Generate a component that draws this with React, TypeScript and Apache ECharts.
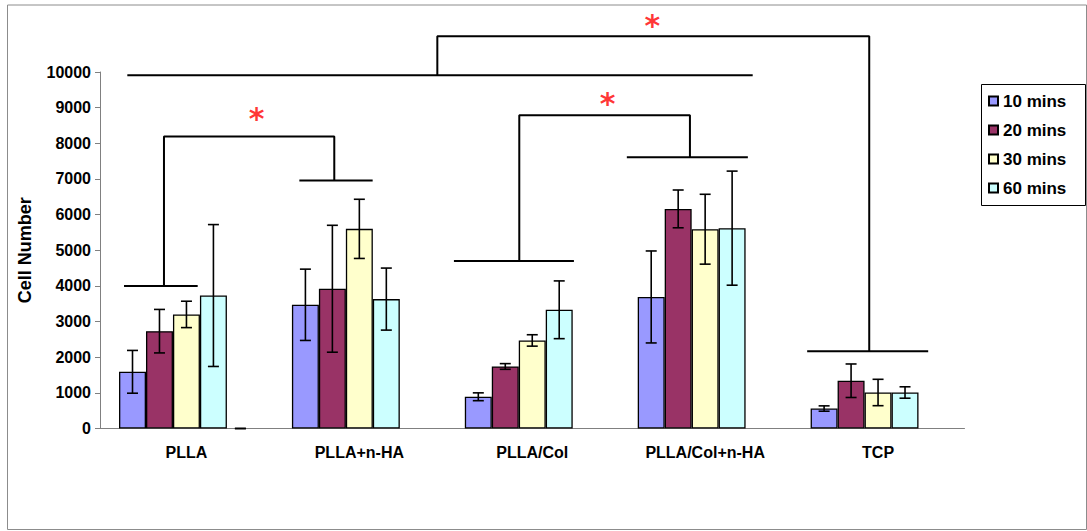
import React, { useEffect, useRef } from "react";
import * as echarts from "echarts";

const categories = ["PLLA", "PLLA+n-HA", "PLLA/Col", "PLLA/Col+n-HA", "TCP"];
const seriesNames = ["10 mins", "20 mins", "30 mins", "60 mins"];
const seriesColors = ["#9999FF", "#993366", "#FFFFCC", "#CCFFFF"];

const mins10 = [1590, 3470, 890, 3690, 560];
const mins10Err = [600, 1000, 110, 1290, 75];
const mins20 = [2730, 3920, 1740, 6160, 1340];
const mins20Err = [610, 1780, 80, 530, 470];
const mins30 = [3200, 5600, 2470, 5590, 1010];
const mins30Err = [370, 830, 160, 980, 370];
const mins60 = [3730, 3630, 3330, 5620, 1010];
const mins60Err = [1990, 870, 810, 1600, 160];
// empty fifth series of the original sheet (only a zero cap is visible in PLLA)
const blankValues = [0, null, null, null, null];
const blankErr = [0, null, null, null, null];

const yTicks = { min: 0, max: 10000, interval: 1000 };

// significance brackets, x in category units (0..5), y in cell number
const bracketPLLA = [
  [0.139, 4000], [0.565, 4000], [0.37, 4000], [0.37, 8190],
  [1.355, 8190], [1.355, 6960], [1.153, 6960], [1.577, 6960],
];
const bracketCol = [
  [2.047, 4700], [2.741, 4700], [2.425, 4700], [2.425, 8790],
  [3.412, 8790], [3.412, 7610], [3.047, 7610], [3.747, 7610],
];
const bracketAll = [
  [0.158, 9910], [3.775, 9910], [1.951, 9910], [1.951, 11000],
  [4.449, 11000], [4.449, 2165], [4.09, 2165], [4.79, 2165],
];
const asterisks = [
  [0.906, 8794],
  [2.936, 9234],
  [3.194, 11411],
];

const FONT = "Liberation Sans";
const CAT_GAP = 0.22;
const N_BARS = 5;

export default function App() {
  const ref = useRef<HTMLDivElement>(null);
  useEffect(() => {
    if (!ref.current) return;
    const chart = echarts.init(ref.current, undefined, { renderer: "svg" });

    const allValues = [mins10, mins20, mins30, mins60, blankValues];
    const allErr = [mins10Err, mins20Err, mins30Err, mins60Err, blankErr];

    const barSeries = allValues.map((vals, i) => ({
      type: "bar",
      name: i < 4 ? seriesNames[i] : "",
      data: vals,
      barGap: "0%",
      barCategoryGap: CAT_GAP * 100 + "%",
      itemStyle: {
        color: i < 4 ? seriesColors[i] : "transparent",
        borderColor: "#000",
        borderWidth: i < 4 ? 1.3 : 0,
      },
      z: 2,
    }));

    const errSeries = allValues.map((vals, i) => ({
      type: "custom",
      name: "err" + i,
      xAxisIndex: 0,
      yAxisIndex: 0,
      z: 5,
      silent: true,
      encode: { x: 0, y: 1 },
      data: vals
        .map((v, j) => (v == null ? null : [j, v, allErr[i][j]]))
        .filter((d) => d !== null),
      renderItem: (params: any, api: any) => {
        const cat = api.value(0);
        const v = api.value(1);
        const e = api.value(2);
        const band = api.size([1, 0])[0];
        const barW = (band * (1 - CAT_GAP)) / N_BARS;
        const cx = api.coord([cat, v])[0] + (i - 2) * barW;
        const yTop = api.coord([cat, v + e])[1];
        const yBot = api.coord([cat, v - e])[1];
        const cap = 5.5;
        const style = { stroke: "#000", lineWidth: 1.6 };
        return {
          type: "group",
          children: [
            { type: "line", shape: { x1: cx, y1: yTop, x2: cx, y2: yBot }, style },
            { type: "line", shape: { x1: cx - cap, y1: yTop, x2: cx + cap, y2: yTop }, style },
            { type: "line", shape: { x1: cx - cap, y1: yBot, x2: cx + cap, y2: yBot }, style },
          ],
        };
      },
    }));

    const bracketSeries = [bracketPLLA, bracketCol, bracketAll].map((b, k) => ({
      type: "line",
      name: "bracket" + k,
      xAxisIndex: 1,
      yAxisIndex: 0,
      data: b,
      symbol: "none",
      clip: false,
      silent: true,
      lineStyle: { color: "#000", width: 2 },
      z: 6,
    }));

    const starSeries = {
      type: "scatter",
      name: "stars",
      xAxisIndex: 1,
      yAxisIndex: 0,
      data: asterisks,
      symbolSize: 1,
      clip: false,
      silent: true,
      itemStyle: { color: "transparent" },
      label: {
        show: true,
        position: "inside",
        formatter: "*",
        color: "#FF0000",
        fontFamily: "DejaVu Sans",
        fontWeight: "bold",
        fontSize: 30,
        offset: [0, 4],
      },
      z: 7,
    };

    chart.setOption({
      animation: false,
      grid: { left: 100, right: 122.5, top: 72, bottom: 102.5, containLabel: false },
      legend: {
        data: seriesNames,
        orient: "vertical",
        left: 988,
        top: 92,
        padding: 0,
        itemWidth: 9,
        itemHeight: 9,
        itemGap: 11,
        icon: "rect",
        textStyle: {
          fontFamily: FONT,
          fontWeight: "bold",
          fontSize: 17,
          lineHeight: 18,
          color: "#000",
        },
      },
      xAxis: [
        {
          type: "category",
          data: categories,
          axisLine: { lineStyle: { color: "#808080", width: 1 } },
          axisTick: { lineStyle: { color: "#808080" }, length: 5 },
          axisLabel: {
            fontFamily: FONT,
            fontWeight: "bold",
            fontSize: 16,
            color: "#000",
            margin: 16,
          },
          splitLine: { show: false },
        },
        { type: "value", min: 0, max: 5, show: false },
      ],
      yAxis: {
        type: "value",
        min: yTicks.min,
        max: yTicks.max,
        interval: yTicks.interval,
        name: "Cell Number",
        nameLocation: "middle",
        nameGap: 66,
        nameTextStyle: {
          fontFamily: FONT,
          fontWeight: "bold",
          fontSize: 18,
          color: "#000",
        },
        axisLine: { show: true, lineStyle: { color: "#808080", width: 1 } },
        axisTick: { show: true, length: 5, lineStyle: { color: "#808080" } },
        axisLabel: {
          fontFamily: FONT,
          fontWeight: "bold",
          fontSize: 16,
          color: "#000",
          margin: 9,
          formatter: (v: number) => String(v),
        },
        splitLine: { show: false },
      },
      graphic: [
        {
          type: "rect",
          silent: true,
          shape: { x: 7.5, y: 5, width: 1079, height: 524.5 },
          style: { fill: "none", stroke: "#8c8c8c", lineWidth: 1 },
          z: -1,
        },
        {
          type: "rect",
          silent: true,
          shape: { x: 981.5, y: 84.5, width: 104, height: 121 },
          style: { fill: "none", stroke: "#000", lineWidth: 1 },
        },
      ],
      series: [...barSeries, ...errSeries, ...bracketSeries, starSeries],
    });
    return () => chart.dispose();
  }, []);

  return (
    <div
      ref={ref}
      style={{ position: "fixed", left: 0, top: 0, width: 1087, height: 531, background: "#fff" }}
    />
  );
}
